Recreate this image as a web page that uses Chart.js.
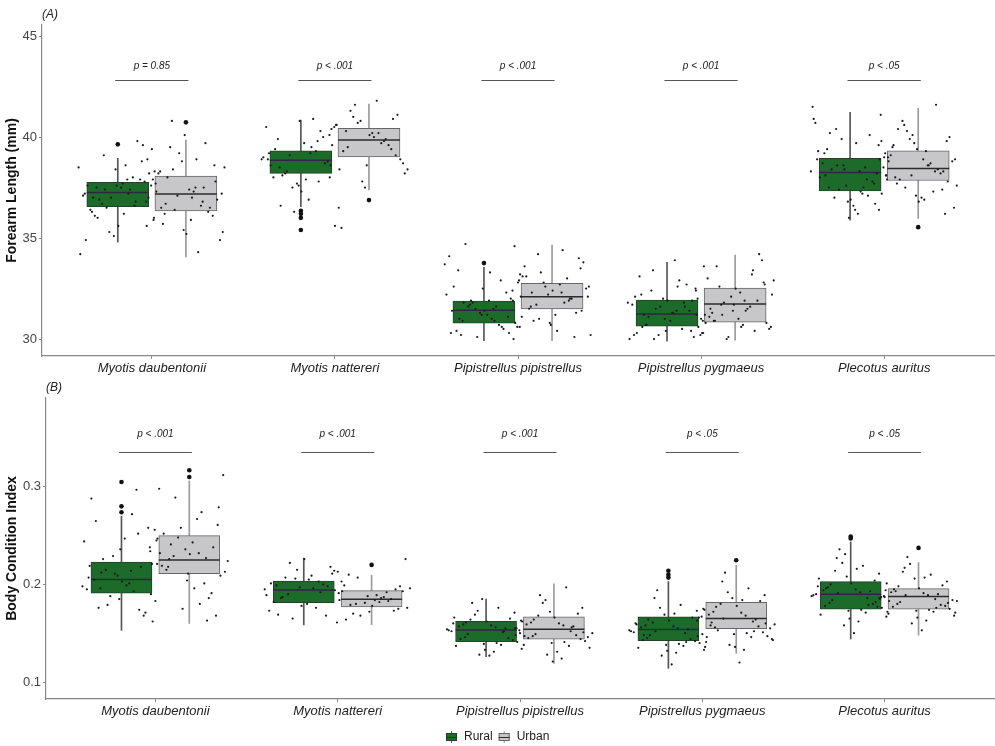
<!DOCTYPE html>
<html>
<head>
<meta charset="utf-8">
<script src="https://cdn.jsdelivr.net/npm/chart.js@4.4.1/dist/chart.umd.min.js"></script>
<style>
    body { margin: 0; background: #fff; }
    #painel { position: relative; width: 995px; height: 746px; }
    canvas { position: absolute; left: 0; }
</style>
</head>
<body>
<div id="painel">
    <canvas id="graficoA" width="995" height="380" style="top:0"></canvas>
    <canvas id="graficoB" width="995" height="366" style="top:380px"></canvas>
</div>
<script>
const especies = ["Myotis daubentonii", "Myotis nattereri", "Pipistrellus pipistrellus", "Pipistrellus pygmaeus", "Plecotus auritus"];
const grupos = ["Rural", "Urban"];

const faTicks = [30, 35, 40, 45];
const bciTicks = [0.1, 0.2, 0.3];
const faPLabels = ["p = 0.85", "p < .001", "p < .001", "p < .001", "p < .05"];
const bciPLabels = ["p < .001", "p < .001", "p < .001", "p < .05", "p < .05"];

// [whisker low, Q1, median, Q3, whisker high]
const faRuralStats = [[34.8, 36.55, 37.26, 37.76, 38.95], [36.55, 38.2, 38.85, 39.32, 40.84], [29.92, 30.78, 31.42, 31.88, 33.55], [29.9, 30.64, 31.24, 31.93, 33.8], [35.89, 37.34, 38.25, 38.95, 41.22]];
const faUrbanStats = [[34.07, 36.35, 37.18, 38.07, 39.85], [37.38, 39.02, 39.85, 40.43, 41.63], [29.92, 31.49, 32.1, 32.76, 34.65], [29.95, 30.84, 31.73, 32.52, 34.16], [35.97, 37.85, 38.45, 39.32, 41.42]];
const faRuralOut = [[39.64], [36.35, 36.2, 36.0, 35.4], [33.76], [], []];
const faUrbanOut = [[40.73], [36.88], [], [], [35.54]];

const bciRuralStats = [[0.153, 0.191, 0.205, 0.223, 0.270], [0.1585, 0.1813, 0.1944, 0.2033, 0.2269], [0.126, 0.1413, 0.1533, 0.1623, 0.185], [0.114, 0.1424, 0.1537, 0.1667, 0.203], [0.144, 0.1746, 0.19, 0.2029, 0.2435]];
const bciUrbanStats = [[0.160, 0.211, 0.225, 0.250, 0.306], [0.1588, 0.177, 0.1848, 0.1937, 0.2094], [0.119, 0.1438, 0.154, 0.1667, 0.2005], [0.1294, 0.1547, 0.165, 0.1817, 0.2197], [0.148, 0.1746, 0.1875, 0.1957, 0.2224]];
const bciRuralOut = [[0.305, 0.28, 0.274], [], [], [0.214, 0.21, 0.207], [0.249, 0.247]];
const bciUrbanOut = [[0.317, 0.31], [0.22], [], [0.2248], [0.2374]];

// individual measurements (jittered points)
const faRuralPts = [
    [37.9, 37.5, 36.8, 38.4, 37.2, 36.6, 39.1, 35.9, 37.7, 36.3, 38.8, 37.0, 34.2, 37.4, 36.9, 38.2, 35.6, 37.6, 39.8, 36.5, 37.3, 38.6, 36.1, 37.8, 35.1, 37.1, 38.0, 36.7, 39.4, 37.5, 36.4, 37.9, 35.3, 38.5, 37.2, 36.0, 38.9, 37.6, 34.9, 36.8, 37.4, 38.3, 36.2, 37.0, 39.6],
    [39.2, 38.5, 40.1, 37.6, 38.9, 39.8, 38.3, 40.6, 37.9, 39.4, 38.7, 36.3, 39.0, 40.9, 38.1, 39.6, 37.3, 38.6, 40.3, 39.1, 38.4, 36.9, 39.9, 38.8, 37.7, 40.5, 39.3, 38.2, 35.6, 39.7, 38.0, 40.0, 37.5, 38.9, 39.5, 36.6, 38.6, 40.8, 39.2, 37.8],
    [31.5, 30.9, 32.4, 31.2, 30.3, 32.9, 31.7, 30.6, 31.9, 33.4, 31.1, 30.1, 32.2, 31.6, 34.7, 30.8, 31.4, 32.6, 30.5, 31.8, 33.1, 31.0, 30.2, 32.0, 31.3, 34.1, 30.7, 31.6, 32.8, 31.2, 30.4, 32.3, 31.5, 33.7, 30.9, 31.8, 30.0, 32.5, 31.4, 30.6, 31.9, 32.1, 33.3, 31.0, 30.3],
    [31.4, 30.7, 32.5, 31.0, 30.2, 31.8, 33.4, 30.9, 31.3, 32.2, 30.4, 31.6, 30.0, 32.9, 31.1, 30.6, 31.9, 30.3, 32.7, 31.5, 30.8, 33.9, 31.2, 30.1, 32.0, 31.7, 30.5, 32.4, 31.0, 30.9, 33.1, 31.4, 30.2, 31.8, 32.6, 30.7, 31.2, 30.4, 32.1, 31.6, 30.0, 33.6, 31.3, 30.6, 31.9],
    [38.3, 37.5, 39.6, 36.8, 38.9, 37.9, 40.4, 38.1, 36.4, 39.2, 37.7, 38.6, 41.5, 37.2, 38.4, 39.8, 36.9, 38.0, 40.1, 37.4, 38.8, 36.2, 39.4, 38.2, 37.6, 40.7, 38.5, 37.0, 39.0, 36.6, 38.7, 37.8, 39.9, 38.3, 37.3, 40.2, 38.9, 36.0, 39.3, 37.1, 38.6, 37.9, 39.7, 38.1, 36.7, 38.4, 40.9, 37.5]
];
const faUrbanPts = [
    [37.5, 36.2, 38.6, 35.4, 37.9, 36.8, 40.8, 37.2, 35.9, 38.3, 36.5, 39.2, 37.0, 34.3, 38.0, 36.9, 35.2, 37.7, 39.7, 36.4, 38.5, 37.3, 35.7, 36.1, 38.8, 37.6, 36.6, 39.5, 34.9, 37.4, 38.2, 36.3, 37.1, 35.6, 38.9, 36.7, 37.8, 40.1, 36.0, 37.5, 38.4, 35.3, 37.0, 36.5],
    [40.2, 39.5, 41.1, 38.6, 40.6, 39.9, 41.6, 38.2, 40.0, 39.3, 40.9, 37.8, 40.4, 39.7, 41.3, 38.9, 40.1, 36.5, 39.6, 40.7, 38.4, 41.8, 40.3, 39.1, 37.5, 40.5, 39.8, 41.0, 38.7, 40.2, 35.5, 39.4, 40.8, 38.0],
    [32.3, 31.6, 33.5, 30.8, 32.9, 31.9, 34.2, 32.1, 30.4, 33.1, 31.3, 32.6, 34.6, 31.8, 30.9, 33.8, 32.4, 31.1, 32.0, 33.3, 30.2, 32.7, 31.5, 34.0, 32.2, 30.6, 33.0, 31.7, 32.5, 31.2, 33.6, 30.1, 32.8, 31.9, 34.4, 32.3, 31.4, 30.7, 33.2, 32.0, 31.0, 32.6],
    [31.9, 30.9, 32.8, 31.4, 30.3, 33.2, 31.7, 30.6, 32.3, 31.1, 34.2, 30.1, 32.0, 31.5, 33.6, 30.8, 32.5, 31.2, 30.4, 31.8, 32.9, 30.7, 31.3, 33.9, 32.1, 30.2, 31.6, 32.6, 30.5, 31.0, 33.0, 31.9, 30.0, 32.4, 31.4, 30.9, 32.7, 31.7, 30.3, 33.4, 31.2, 32.2, 30.6, 31.5],
    [38.6, 37.7, 39.8, 37.1, 39.2, 38.3, 40.6, 36.5, 38.9, 39.5, 37.4, 38.1, 41.1, 38.7, 37.9, 40.0, 36.8, 39.0, 38.4, 40.3, 37.6, 39.3, 38.0, 36.2, 39.7, 38.5, 37.3, 40.8, 38.8, 37.0, 39.1, 38.2, 39.9, 36.4, 38.6, 40.4, 37.8, 39.4, 38.1, 41.6, 37.5, 38.9, 36.9, 39.6, 38.3, 40.1, 37.2]
];
const bciRuralPts = [
    [0.214, 0.196, 0.238, 0.185, 0.207, 0.252, 0.179, 0.221, 0.199, 0.265, 0.171, 0.211, 0.244, 0.193, 0.226, 0.162, 0.203, 0.288, 0.218, 0.188, 0.232, 0.201, 0.176, 0.258, 0.209, 0.195, 0.297, 0.215, 0.183, 0.247, 0.205, 0.168, 0.229, 0.198, 0.272, 0.212, 0.190, 0.236, 0.219, 0.174],
    [0.196, 0.187, 0.211, 0.178, 0.201, 0.192, 0.222, 0.184, 0.205, 0.169, 0.198, 0.215, 0.189, 0.176, 0.207, 0.194, 0.226, 0.182, 0.200, 0.165, 0.193, 0.209, 0.186, 0.218, 0.197, 0.173, 0.203, 0.190, 0.213, 0.180, 0.199, 0.168, 0.206, 0.195],
    [0.156, 0.146, 0.171, 0.139, 0.160, 0.151, 0.181, 0.134, 0.158, 0.144, 0.165, 0.128, 0.153, 0.176, 0.149, 0.141, 0.162, 0.137, 0.155, 0.169, 0.147, 0.131, 0.159, 0.143, 0.185, 0.152, 0.138, 0.164, 0.150, 0.127, 0.157, 0.145, 0.173, 0.154, 0.140, 0.161, 0.148, 0.133, 0.166, 0.152],
    [0.155, 0.145, 0.173, 0.138, 0.160, 0.150, 0.186, 0.133, 0.157, 0.143, 0.166, 0.127, 0.152, 0.179, 0.148, 0.140, 0.163, 0.135, 0.154, 0.194, 0.146, 0.130, 0.158, 0.142, 0.169, 0.151, 0.137, 0.161, 0.149, 0.118, 0.156, 0.144, 0.176, 0.153, 0.139, 0.164, 0.147, 0.132, 0.159, 0.141, 0.152, 0.136, 0.170, 0.148],
    [0.192, 0.181, 0.211, 0.173, 0.198, 0.186, 0.227, 0.167, 0.195, 0.178, 0.204, 0.158, 0.189, 0.219, 0.184, 0.176, 0.201, 0.169, 0.193, 0.236, 0.183, 0.162, 0.197, 0.177, 0.208, 0.190, 0.171, 0.214, 0.187, 0.150, 0.194, 0.180, 0.222, 0.188, 0.174, 0.200, 0.185, 0.165, 0.206, 0.179, 0.191, 0.172, 0.216, 0.196, 0.182, 0.231]
];
const bciUrbanPts = [
    [0.232, 0.218, 0.261, 0.204, 0.245, 0.227, 0.289, 0.213, 0.196, 0.252, 0.238, 0.175, 0.221, 0.274, 0.241, 0.209, 0.231, 0.298, 0.186, 0.248, 0.224, 0.267, 0.215, 0.168, 0.236, 0.256, 0.201, 0.229, 0.312, 0.243, 0.219, 0.191, 0.258, 0.234, 0.180, 0.226, 0.279, 0.211, 0.247, 0.163],
    [0.186, 0.179, 0.198, 0.172, 0.191, 0.183, 0.207, 0.176, 0.189, 0.164, 0.195, 0.181, 0.214, 0.187, 0.170, 0.193, 0.178, 0.203, 0.185, 0.168, 0.196, 0.182, 0.210, 0.175, 0.188, 0.161, 0.192, 0.180, 0.226, 0.184, 0.199, 0.173],
    [0.158, 0.147, 0.176, 0.140, 0.163, 0.152, 0.189, 0.135, 0.160, 0.145, 0.170, 0.128, 0.155, 0.197, 0.149, 0.142, 0.166, 0.138, 0.157, 0.181, 0.150, 0.124, 0.161, 0.144, 0.172, 0.153, 0.137, 0.168, 0.146, 0.131, 0.159, 0.148, 0.184, 0.155, 0.141, 0.164, 0.151, 0.121, 0.162, 0.156],
    [0.168, 0.156, 0.189, 0.149, 0.175, 0.162, 0.203, 0.144, 0.171, 0.158, 0.183, 0.138, 0.166, 0.196, 0.153, 0.147, 0.178, 0.141, 0.164, 0.212, 0.159, 0.133, 0.172, 0.151, 0.186, 0.167, 0.146, 0.180, 0.155, 0.120, 0.169, 0.157, 0.192, 0.163, 0.150, 0.177, 0.160, 0.136, 0.174, 0.152, 0.165, 0.143, 0.184, 0.161],
    [0.189, 0.180, 0.203, 0.173, 0.194, 0.185, 0.217, 0.168, 0.191, 0.177, 0.199, 0.160, 0.187, 0.210, 0.182, 0.175, 0.196, 0.170, 0.190, 0.228, 0.183, 0.163, 0.193, 0.178, 0.206, 0.188, 0.172, 0.213, 0.184, 0.153, 0.192, 0.179, 0.221, 0.186, 0.174, 0.198, 0.181, 0.166, 0.201, 0.176, 0.189, 0.171, 0.207, 0.195]
];

const fonte = "'Liberation Sans', Arial, sans-serif";
Chart.defaults.font.family = fonte;

const estilos = {
    Rural: { fill: "#1d6b2a", borda: "#23412a", bigode: "#555555", mediana: "#2e2740", dx: -0.186 },
    Urban: { fill: "#c7c7c9", borda: "#666666", bigode: "#9a9a9a", mediana: "#2b2b2b", dx: 0.186 }
};

// spread of the jittered points across the box width
function jitter(j) {
    return (((j + 1) * 0.618034) % 1 - 0.5) * 0.44;
}

function montarDatasets(stats, pontos, outliers, larguraCaixa) {
    const datasets = [];

    grupos.forEach(function (grupo, g) {
        const e = estilos[grupo];

        datasets.push({
            type: "bar",
            label: grupo + " whisker",
            data: stats[g].map(function (s, i) { return { x: i + 1 + e.dx, y: [s[0], s[4]] }; }),
            backgroundColor: e.bigode,
            barThickness: 1,
            grouped: false,
            order: 5
        });

        datasets.push({
            type: "bar",
            label: grupo,
            data: stats[g].map(function (s, i) { return { x: i + 1 + e.dx, y: [s[1], s[3]] }; }),
            backgroundColor: e.fill,
            borderColor: e.borda,
            borderWidth: 1,
            borderSkipped: false,
            barThickness: larguraCaixa,
            grouped: false,
            order: 4
        });

        datasets.push({
            type: "scatter",
            label: grupo + " median",
            data: stats[g].map(function (s, i) { return { x: i + 1 + e.dx, y: s[2] }; }),
            pointStyle: "line",
            pointRadius: larguraCaixa / 2,
            borderColor: e.mediana,
            borderWidth: 1.5,
            order: 3
        });

        const pts = [];
        pontos[g].forEach(function (lista, i) {
            lista.forEach(function (v, j) {
                pts.push({ x: i + 1 + e.dx + jitter(j), y: v });
            });
        });
        datasets.push({
            type: "scatter",
            label: grupo + " points",
            data: pts,
            pointRadius: 1.1,
            backgroundColor: "#1a1a1a",
            borderWidth: 0,
            order: 2
        });

        const outs = [];
        outliers[g].forEach(function (lista, i) {
            lista.forEach(function (v) {
                outs.push({ x: i + 1 + e.dx, y: v });
            });
        });
        datasets.push({
            type: "scatter",
            label: grupo + " outliers",
            data: outs,
            pointRadius: 2.3,
            backgroundColor: "#111111",
            borderWidth: 0,
            order: 1
        });
    });

    return datasets;
}

function anotacoes(tag, rotulos, yLinha, yTexto) {
    return {
        id: "anotacoes" + tag,
        afterDatasetsDraw: function (chart) {
            const ctx = chart.ctx;
            const x = chart.scales.x;
            const y = chart.scales.y;
            ctx.save();
            ctx.strokeStyle = "#555";
            ctx.lineWidth = 1;
            ctx.fillStyle = "#222";
            ctx.font = "italic 10px " + fonte;
            ctx.textAlign = "center";
            ctx.textBaseline = "middle";
            rotulos.forEach(function (r, i) {
                const yl = Math.round(y.getPixelForValue(yLinha)) + 0.5;
                ctx.beginPath();
                ctx.moveTo(x.getPixelForValue(i + 1 - 0.2), yl);
                ctx.lineTo(x.getPixelForValue(i + 1 + 0.2), yl);
                ctx.stroke();
                ctx.fillText(r, x.getPixelForValue(i + 1), y.getPixelForValue(yTexto));
            });
            ctx.font = "italic 12px " + fonte;
            ctx.textAlign = "left";
            ctx.fillText("(" + tag + ")", chart.chartArea.left, chart.chartArea.top - 10);
            ctx.restore();
        }
    };
}

const legenda = {
    id: "legenda",
    afterDraw: function (chart) {
        const ctx = chart.ctx;
        const y = chart.height - 9;
        ctx.save();
        ctx.font = "12px " + fonte;
        ctx.textBaseline = "middle";
        let largura = 0;
        grupos.forEach(function (g) { largura += 11 + 7 + ctx.measureText(g).width; });
        largura += 6;
        let x = Math.round(chart.width / 2 - largura / 2);
        grupos.forEach(function (g) {
            const e = estilos[g];
            ctx.strokeStyle = e.bigode;
            ctx.lineWidth = 1;
            ctx.beginPath();
            ctx.moveTo(x + 5.5, y - 6);
            ctx.lineTo(x + 5.5, y + 6);
            ctx.stroke();
            ctx.fillStyle = e.fill;
            ctx.fillRect(x, y - 4, 11, 8);
            ctx.strokeStyle = e.borda;
            ctx.strokeRect(x + 0.5, y - 3.5, 10, 7);
            ctx.strokeStyle = e.mediana;
            ctx.beginPath();
            ctx.moveTo(x, y + 0.5);
            ctx.lineTo(x + 11, y + 0.5);
            ctx.stroke();
            ctx.fillStyle = "#222";
            ctx.fillText(g, x + 18, y);
            x += 11 + 7 + ctx.measureText(g).width + 6;
        });
        ctx.restore();
    }
};

function opcoes(cfg) {
    return {
        responsive: false,
        animation: false,
        events: [],
        devicePixelRatio: 1,
        layout: { autoPadding: false, padding: { top: cfg.topo, right: 1, left: 0, bottom: cfg.baixo } },
        plugins: {
            legend: { display: false },
            tooltip: { enabled: false }
        },
        scales: {
            x: {
                type: "linear",
                min: 0.4,
                max: 5.6,
                offset: false,
                afterBuildTicks: function (s) {
                    s.ticks = especies.map(function (e, i) { return { value: i + 1 }; });
                },
                afterFit: function (s) {
                    s.height = 24;
                    s.paddingLeft = 0;
                    s.paddingRight = 0;
                },
                ticks: {
                    callback: function (v) { return especies[v - 1]; },
                    font: { size: 13, style: "italic" },
                    color: "#222",
                    padding: 2,
                    autoSkip: false,
                    maxRotation: 0
                },
                grid: { drawOnChartArea: false, tickLength: 3, color: "#888", offset: false },
                border: { color: "#888", width: 1.2 }
            },
            y: {
                min: cfg.min,
                max: cfg.max,
                afterBuildTicks: function (s) {
                    s.ticks = cfg.ticks.map(function (v) { return { value: v }; });
                },
                afterFit: function (s) {
                    s.width = cfg.larguraY;
                    s.paddingTop = 0;
                    s.paddingBottom = 0;
                },
                ticks: {
                    callback: function (v) { return String(v); },
                    font: { size: 13 },
                    color: "#444",
                    padding: 2
                },
                grid: { drawOnChartArea: false, tickLength: 3, color: "#888" },
                border: { color: "#888", width: 1.2 },
                title: {
                    display: true,
                    text: cfg.titulo,
                    font: { size: 14, weight: "bold" },
                    color: "#111"
                }
            }
        }
    };
}

new Chart(document.getElementById("graficoA"), {
    type: "bar",
    data: {
        datasets: montarDatasets([faRuralStats, faUrbanStats], [faRuralPts, faUrbanPts], [faRuralOut, faUrbanOut], 62)
    },
    options: opcoes({ topo: 25, baixo: 0, min: 29.16, max: 45.55, ticks: faTicks, larguraY: 42, titulo: "Forearm Length (mm)" }),
    plugins: [anotacoes("A", faPLabels, 42.82, 43.5)]
});

new Chart(document.getElementById("graficoB"), {
    type: "bar",
    data: {
        datasets: montarDatasets([bciRuralStats, bciUrbanStats], [bciRuralPts, bciUrbanPts], [bciRuralOut, bciUrbanOut], 61)
    },
    options: opcoes({ topo: 18, baixo: 23, min: 0.0826, max: 0.391, ticks: bciTicks, larguraY: 46, titulo: "Body Condition Index" }),
    plugins: [anotacoes("B", bciPLabels, 0.3356, 0.354), legenda]
});
</script>
</body>
</html>
